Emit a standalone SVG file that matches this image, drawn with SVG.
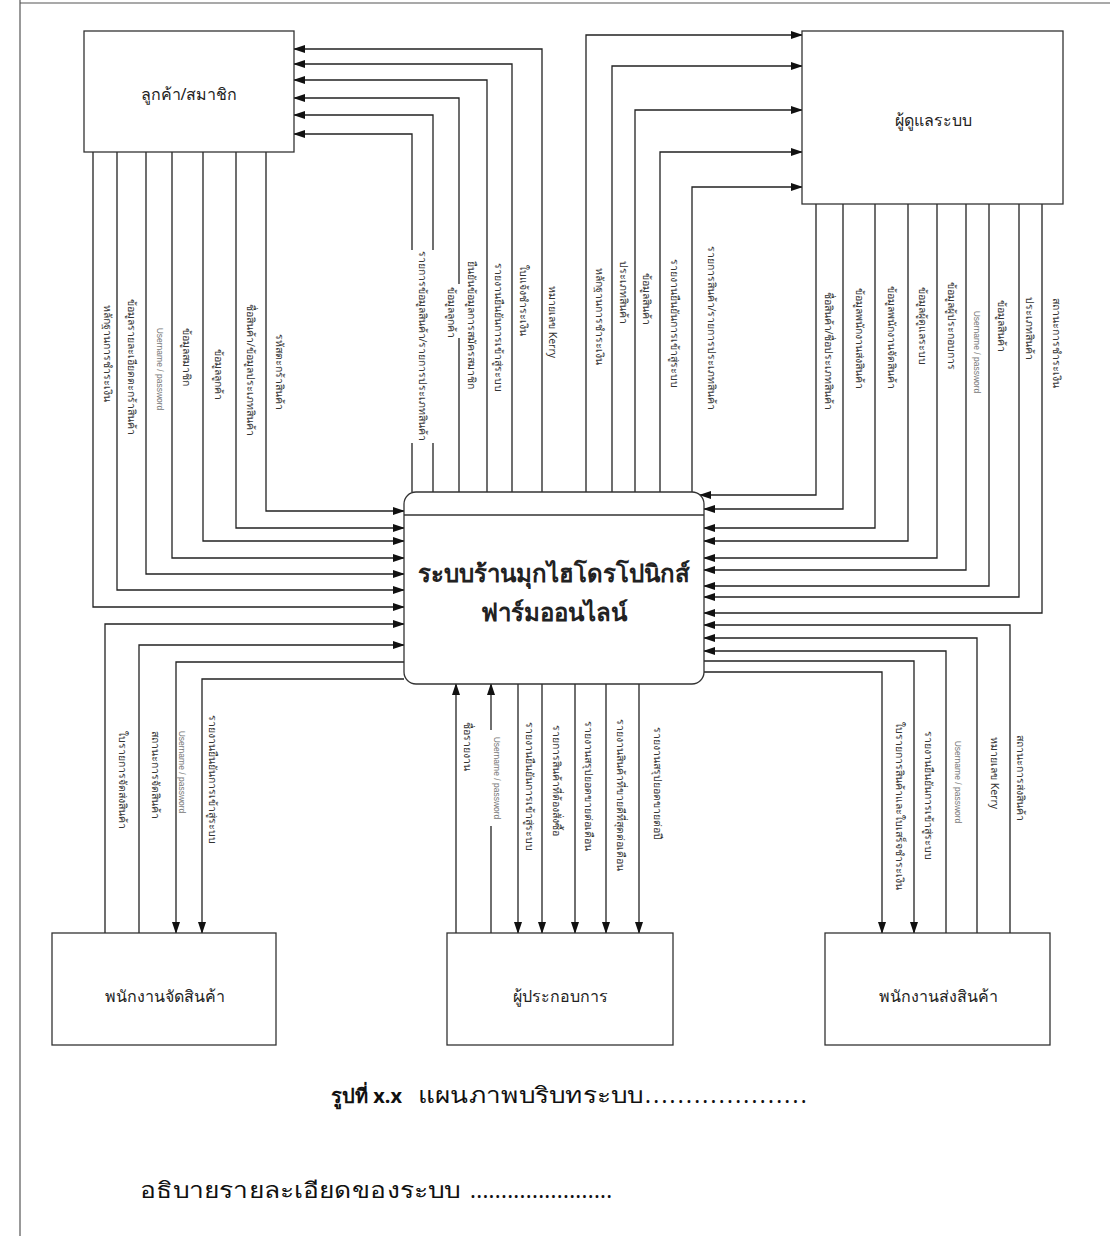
<svg xmlns="http://www.w3.org/2000/svg" width="1110" height="1236" viewBox="0 0 1110 1236">
<style>
.box{fill:#fff;stroke:#333;stroke-width:1.3}
.ln{fill:none;stroke:#222;stroke-width:1.3}
.arr{fill:none;stroke:#222;stroke-width:1.3;marker-end:url(#ah)}
.lb{font-family:"Noto Sans","DejaVu Sans",sans-serif;font-size:10.5px;fill:#333;text-anchor:middle}
.sm{font-family:"Liberation Sans",Arial,sans-serif;font-size:8.5px;fill:#777;text-anchor:middle}
.nt{font-family:"Noto Sans","DejaVu Sans",sans-serif;font-size:16px;fill:#222;text-anchor:middle}
.pt{font-family:"Noto Sans","DejaVu Sans",sans-serif;font-size:24px;font-weight:bold;fill:#222;text-anchor:middle}
.cap{font-family:"Noto Sans","DejaVu Sans",sans-serif;font-size:22px;fill:#111}
.capb{font-family:"Noto Sans","DejaVu Sans",sans-serif;font-size:20px;font-weight:bold;fill:#111}
.wb{fill:#fff}
</style>
<defs>
<marker id="ah" markerWidth="12" markerHeight="8" refX="11" refY="4" orient="auto" markerUnits="userSpaceOnUse">
<path d="M0,0 L12,4 L0,8 Z" fill="#111"/>
</marker>
</defs>
<rect width="1110" height="1236" fill="#fff"/>
<g id="frame">
<line x1="20" y1="0" x2="20" y2="1236" stroke="#555" stroke-width="1.2"/>
<line x1="20" y1="3" x2="1110" y2="3" stroke="#555" stroke-width="1.2"/>
</g>

<g id="connectors">
<!-- customer -> process -->
<path class="arr" d="M93,152 V607 H404"/>
<path class="arr" d="M117,152 V590 H404"/>
<path class="arr" d="M146,152 V574 H404"/>
<path class="arr" d="M172,152 V558 H404"/>
<path class="arr" d="M203,152 V541 H404"/>
<path class="arr" d="M236,152 V528 H404"/>
<path class="arr" d="M266,152 V511 H404"/>
<!-- process -> customer -->
<path class="arr" d="M412,492 V134 H294"/>
<path class="arr" d="M433,492 V115 H294"/>
<path class="arr" d="M459,492 V98 H294"/>
<path class="arr" d="M487,492 V80 H294"/>
<path class="arr" d="M512,492 V64 H294"/>
<path class="arr" d="M542,492 V49 H294"/>
<!-- process -> admin -->
<path class="arr" d="M586,492 V35 H802"/>
<path class="arr" d="M612,492 V66 H802"/>
<path class="arr" d="M635,492 V110 H802"/>
<path class="arr" d="M660,492 V152 H802"/>
<path class="arr" d="M692,493 V187 H802"/>
<!-- admin -> process -->
<path class="arr" d="M816,204 V495 H700"/>
<path class="arr" d="M843,204 V509 H704"/>
<path class="arr" d="M875,204 V528 H704"/>
<path class="arr" d="M908,204 V541 H704"/>
<path class="arr" d="M937,204 V558 H704"/>
<path class="arr" d="M966,204 V570 H704"/>
<path class="arr" d="M989,204 V586 H704"/>
<path class="arr" d="M1019,204 V597 H704"/>
<path class="arr" d="M1042,204 V613 H704"/>
<!-- delivery staff <-> process -->
<path class="arr" d="M1010,933 V625 H704"/>
<path class="arr" d="M977,933 V638 H704"/>
<path class="arr" d="M946,933 V651 H704"/>
<path class="arr" d="M704,661 H914 V933"/>
<path class="arr" d="M704,672 H882 V933"/>
<!-- packing staff <-> process -->
<path class="arr" d="M105,933 V624 H404"/>
<path class="arr" d="M139,933 V645 H404"/>
<path class="arr" d="M404,662 H176 V933"/>
<path class="arr" d="M404,679 H202 V933"/>
<!-- owner <-> process -->
<path class="arr" d="M456,933 V684"/>
<path class="arr" d="M491,933 V684"/>
<path class="arr" d="M518,684 V933"/>
<path class="arr" d="M542,684 V933"/>
<path class="arr" d="M575,684 V933"/>
<path class="arr" d="M606,684 V933"/>
<path class="arr" d="M639,684 V933"/>
</g>

<g id="connector-labels">
<rect class="wb" x="406" y="250" width="34" height="193"/>
<rect class="wb" x="444" y="284" width="20" height="54"/>
<rect class="wb" x="490" y="730" width="14" height="96"/>
<rect class="wb" x="548" y="720" width="18" height="130"/>
<g class="lb">
<text transform="translate(108,353) rotate(90)" dy="0.35em">หลักฐานการชำระเงิน</text>
<text transform="translate(132,367) rotate(90)" dy="0.35em">ข้อมูลรายละเอียดตะกร้าสินค้า</text>
<text transform="translate(187,357) rotate(90)" dy="0.35em">ข้อมูลสมาชิก</text>
<text transform="translate(219,374) rotate(90)" dy="0.35em">ข้อมูลลูกค้า</text>
<text transform="translate(251,370) rotate(90)" dy="0.35em">ชื่อสินค้า/ข้อมูลประเภทสินค้า</text>
<text transform="translate(280,372) rotate(90)" dy="0.35em">รหัสตะกร้าสินค้า</text>
<text transform="translate(423,346) rotate(90)" dy="0.35em">รายการข้อมูลสินค้า/รายการประเภทสินค้า</text>
<text transform="translate(452,312) rotate(90)" dy="0.35em">ข้อมูลลูกค้า</text>
<text transform="translate(472,325) rotate(90)" dy="0.35em">ยืนยันข้อมูลการสมัครสมาชิก</text>
<text transform="translate(499,327) rotate(90)" dy="0.35em">รายงานยืนยันการเข้าสู่ระบบ</text>
<text transform="translate(524,300) rotate(90)" dy="0.35em">ใบแจ้งชำระเงิน</text>
<text transform="translate(553,322) rotate(90)" dy="0.35em">หมายเลข Kerry</text>
<text transform="translate(600,316) rotate(90)" dy="0.35em">หลักฐานการชำระเงิน</text>
<text transform="translate(624,292) rotate(90)" dy="0.35em">ประเภทสินค้า</text>
<text transform="translate(647,299) rotate(90)" dy="0.35em">ข้อมูลสินค้า</text>
<text transform="translate(675,323) rotate(90)" dy="0.35em">รายงานยืนยันการเข้าสู่ระบบ</text>
<text transform="translate(712,328) rotate(90)" dy="0.35em">รายการสินค้า/รายการประเภทสินค้า</text>
<text transform="translate(829,351) rotate(90)" dy="0.35em">ชื่อสินค้า/ชื่อประเภทสินค้า</text>
<text transform="translate(860,338) rotate(90)" dy="0.35em">ข้อมูลพนักงานส่งสินค้า</text>
<text transform="translate(892,337) rotate(90)" dy="0.35em">ข้อมูลพนักงานจัดสินค้า</text>
<text transform="translate(923,326) rotate(90)" dy="0.35em">ข้อมูลผู้ดูแลระบบ</text>
<text transform="translate(952,326) rotate(90)" dy="0.35em">ข้อมูลผู้ประกอบการ</text>
<text transform="translate(1002,326) rotate(90)" dy="0.35em">ข้อมูลสินค้า</text>
<text transform="translate(1030,328) rotate(90)" dy="0.35em">ประเภทสินค้า</text>
<text transform="translate(1057,343) rotate(90)" dy="0.35em">สถานะการชำระเงิน</text>
<text transform="translate(123,780) rotate(90)" dy="0.35em">ใบรายการจัดส่งสินค้า</text>
<text transform="translate(156,775) rotate(90)" dy="0.35em">สถานะการจัดสินค้า</text>
<text transform="translate(213,779) rotate(90)" dy="0.35em">รายงานยืนยันการเข้าสู่ระบบ</text>
<text transform="translate(468,746) rotate(90)" dy="0.35em">ชื่อรายงาน</text>
<text transform="translate(530,786) rotate(90)" dy="0.35em">รายงานยืนยันการเข้าสู่ระบบ</text>
<text transform="translate(557,780) rotate(90)" dy="0.35em">รายการสินค้าที่ต้องสั่งซื้อ</text>
<text transform="translate(589,786) rotate(90)" dy="0.35em">รายงานสรุปยอดขายต่อเดือน</text>
<text transform="translate(621,795) rotate(90)" dy="0.35em">รายงานสินค้าที่ขายดีที่สุดต่อเดือน</text>
<text transform="translate(658,783) rotate(90)" dy="0.35em">รายงานสรุปยอดขายต่อปี</text>
<text transform="translate(900,806) rotate(90)" dy="0.35em">ใบรายการสินค้าและใบเสร็จชำระเงิน</text>
<text transform="translate(929,795) rotate(90)" dy="0.35em">รายงานยืนยันการเข้าสู่ระบบ</text>
<text transform="translate(995,773) rotate(90)" dy="0.35em">หมายเลข Kerry</text>
<text transform="translate(1021,778) rotate(90)" dy="0.35em">สถานะการส่งสินค้า</text>
</g>
<g class="sm">
<text transform="translate(160,369) rotate(90)" dy="0.35em">Username / password</text>
<text transform="translate(977,352) rotate(90)" dy="0.35em">Username / password</text>
<text transform="translate(182,772) rotate(90)" dy="0.35em">Username / password</text>
<text transform="translate(497,778) rotate(90)" dy="0.35em">Username / password</text>
<text transform="translate(958,782) rotate(90)" dy="0.35em">Username / password</text>
</g>
</g>

<g id="customer">
<rect class="box" x="84" y="31" width="210" height="121"/>
<text class="nt" x="189" y="100">ลูกค้า/สมาชิก</text>
</g>
<g id="admin">
<rect class="box" x="802" y="31" width="261" height="173"/>
<text class="nt" x="933" y="126">ผู้ดูแลระบบ</text>
</g>
<g id="process">
<rect class="box" x="404" y="492" width="300" height="192" rx="12"/>
<line x1="404" y1="515" x2="704" y2="515" stroke="#333" stroke-width="1.3"/>
<text class="pt" x="554" y="582">ระบบร้านมุกไฮโดรโปนิกส์</text>
<text class="pt" x="554" y="621">ฟาร์มออนไลน์</text>
</g>
<g id="packing-staff">
<rect class="box" x="52" y="933" width="224" height="112"/>
<text class="nt" x="165" y="1002">พนักงานจัดสินค้า</text>
</g>
<g id="owner">
<rect class="box" x="447" y="933" width="226" height="112"/>
<text class="nt" x="560" y="1002">ผู้ประกอบการ</text>
</g>
<g id="delivery-staff">
<rect class="box" x="825" y="933" width="225" height="112"/>
<text class="nt" x="938" y="1002">พนักงานส่งสินค้า</text>
</g>

<g id="caption">
<text class="capb" x="331" y="1103">รูปที่ x.x</text>
<text class="cap" transform="translate(418,1103) scale(1.19,1)">แผนภาพบริบทระบบ</text>
<text class="cap" x="645" y="1103" letter-spacing="2.3">....................</text>
<text class="cap" transform="translate(140,1198) scale(1.2,1)">อธิบายรายละเอียดของระบบ</text>
<text class="cap" x="470" y="1198" letter-spacing="0.3">.......................</text>
</g>
</svg>
